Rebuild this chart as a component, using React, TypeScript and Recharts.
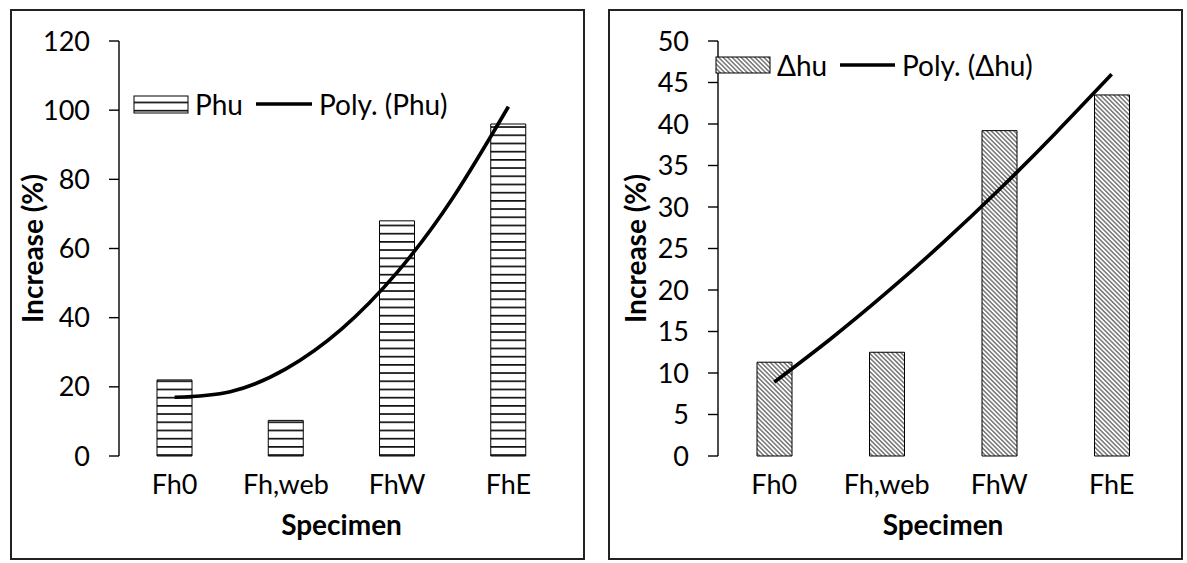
import React from 'react';
import { ComposedChart, Bar, Line, XAxis, YAxis, Label } from 'recharts';

const specimens = ['Fh0', 'Fh,web', 'FhW', 'FhE'];
const phuValues = [22, 10.3, 68, 96];
const dhuValues = [11.3, 12.5, 39.2, 43.5];

// trendline at half-category steps
const trendX = [1, 1.5, 2, 2.5, 3, 3.5, 4];
const phuTrend = [17, 18.6, 25.2, 36.7, 53.1, 74.6, 101];
const dhuTrend = [8.9, 14.1, 19.7, 25.7, 32.1, 38.9, 46];

const phuTicks = [0, 20, 40, 60, 80, 100, 120];
const dhuTicks = [0, 5, 10, 15, 20, 25, 30, 35, 40, 45, 50];
const edgeTicks = [0.5, 1.5, 2.5, 3.5, 4.5];

const FONT = 'Lato, "Open Sans", sans-serif';
const CHART_W = 571;
const CHART_H = 547;

interface LegendPos {
  swatchX: number;
  swatchY: number;
  swatchH: number;
  textX: number;
  cy: number;
  lineX1: number;
  lineX2: number;
  polyX: number;
}

interface PanelProps {
  left: number;
  values: number[];
  trend: number[];
  ticks: number[];
  name: string;
  patternId: string;
  diagonal: boolean;
  rightMargin: number;
  yAxisWidth: number;
  titleX: number;
  legend: LegendPos;
}

const PatternDef = ({ id, diagonal }: { id: string; diagonal: boolean }) =>
  diagonal ? (
    <pattern id={id} patternUnits="userSpaceOnUse" width={3.2} height={3.2} patternTransform="rotate(45)">
      <rect width={3.2} height={3.2} fill="#fff" />
      <line x1={0} y1={0.8} x2={3.2} y2={0.8} stroke="#3a3a3a" strokeWidth={1.05} />
    </pattern>
  ) : (
    <pattern id={id} patternUnits="userSpaceOnUse" width={10} height={8.2} y={0.4}>
      <rect width={10} height={8.2} fill="#fff" />
      <rect y={0} width={10} height={1.7} fill="#111" />
    </pattern>
  );

const YTitle = ({ viewBox, dx }: any) => {
  const cy = viewBox.y + viewBox.height / 2;
  const x = viewBox.x + dx;
  return (
    <text
      x={x}
      y={cy}
      transform={`rotate(-90, ${x}, ${cy})`}
      textAnchor="middle"
      dominantBaseline="central"
      fontFamily={FONT}
      fontWeight="bold"
      fontSize={28}
      fill="#000"
    >
      Increase (%)
    </text>
  );
};

const Panel: React.FC<PanelProps> = (p) => {
  const barData = specimens.map((s, i) => ({ name: s, value: p.values[i] }));
  const trendData = trendX.map((x, i) => ({ x, y: p.trend[i] }));
  const lg = p.legend;
  const tickStyle = { fill: '#000', fontSize: 27, fontFamily: FONT };

  return (
    <div
      style={{
        position: 'absolute',
        left: p.left,
        top: 9,
        width: CHART_W,
        height: CHART_H,
        border: '2px solid #222',
        background: '#fff',
      }}
    >
      <ComposedChart
        width={CHART_W}
        height={CHART_H}
        data={barData}
        margin={{ top: 30, right: p.rightMargin, bottom: 0, left: 0 }}
        style={{ fontFamily: FONT }}
      >
        <defs>
          <PatternDef id={p.patternId} diagonal={p.diagonal} />
        </defs>
        <XAxis
          xAxisId="trend"
          type="number"
          dataKey="x"
          domain={[0.5, 4.5]}
          ticks={edgeTicks}
          interval={0}
          height={0}
          tick={false}
          tickSize={10}
          axisLine={{ stroke: '#000', strokeWidth: 1.4 }}
          tickLine={{ stroke: '#000', strokeWidth: 1.4 }}
          allowDataOverflow
        />
        <XAxis
          xAxisId="cat"
          dataKey="name"
          height={102}
          interval={0}
          tickSize={10}
          tickMargin={9}
          axisLine={false}
          tickLine={{ stroke: 'none' }}
          tick={tickStyle}
        >
          <Label
            value="Specimen"
            position="insideBottom"
            offset={23}
            style={{ fontFamily: FONT, fontWeight: 'bold', fontSize: 28, fill: '#000' }}
          />
        </XAxis>
        <YAxis
          width={p.yAxisWidth}
          domain={[p.ticks[0], p.ticks[p.ticks.length - 1]]}
          ticks={p.ticks}
          interval={0}
          tickSize={10}
          tickMargin={19}
          axisLine={{ stroke: '#000', strokeWidth: 1.4 }}
          tickLine={{ stroke: '#000', strokeWidth: 1.4 }}
          tick={tickStyle}
        >
          <Label content={(props: any) => <YTitle {...props} dx={p.titleX} />} />
        </YAxis>
        <Bar
          xAxisId="cat"
          dataKey="value"
          name={p.name}
          barSize={35}
          fill={`url(#${p.patternId})`}
          stroke="#000"
          strokeWidth={1}
          isAnimationActive={false}
        />
        <Line
          xAxisId="trend"
          data={trendData}
          dataKey="y"
          name={`Poly. (${p.name})`}
          type="natural"
          stroke="#000"
          strokeWidth={3.6}
          dot={false}
          activeDot={false}
          isAnimationActive={false}
        />
      </ComposedChart>

      <svg
        width={CHART_W}
        height={CHART_H}
        style={{ position: 'absolute', left: 0, top: 0, pointerEvents: 'none' }}
      >
        <defs>
          <PatternDef id={`${p.patternId}-lg`} diagonal={p.diagonal} />
        </defs>
        <rect
          x={lg.swatchX}
          y={lg.swatchY}
          width={54}
          height={lg.swatchH}
          fill={`url(#${p.patternId}-lg)`}
          stroke="#000"
          strokeWidth={1}
        />
        <text x={lg.textX} y={lg.cy} dominantBaseline="central" fontFamily={FONT} fontSize={28} fill="#000">
          {p.name}
        </text>
        <line x1={lg.lineX1} y1={lg.cy} x2={lg.lineX2} y2={lg.cy} stroke="#000" strokeWidth={3.6} />
        <text x={lg.polyX} y={lg.cy} dominantBaseline="central" fontFamily={FONT} fontSize={28} fill="#000">
          {`Poly. (${p.name})`}
        </text>
      </svg>
    </div>
  );
};

export default function App() {
  return (
    <div style={{ position: 'absolute', left: 0, top: 0, width: 1187, height: 563, background: '#fff' }}>
      <Panel
        left={10}
        values={phuValues}
        trend={phuTrend}
        ticks={phuTicks}
        name="Phu"
        patternId="hstripe"
        diagonal={false}
        rightMargin={19}
        yAxisWidth={107}
        titleX={20}
        legend={{ swatchX: 122, swatchY: 85, swatchH: 17, textX: 183, cy: 93, lineX1: 244, lineX2: 300, polyX: 307 }}
      />
      <Panel
        left={608}
        values={dhuValues}
        trend={dhuTrend}
        ticks={dhuTicks}
        name="Δhu"
        patternId="dstripe"
        diagonal={true}
        rightMargin={13}
        yAxisWidth={108}
        titleX={25}
        legend={{ swatchX: 106, swatchY: 46, swatchH: 16, textX: 167, cy: 54, lineX1: 230, lineX2: 285, polyX: 292 }}
      />
    </div>
  );
}
